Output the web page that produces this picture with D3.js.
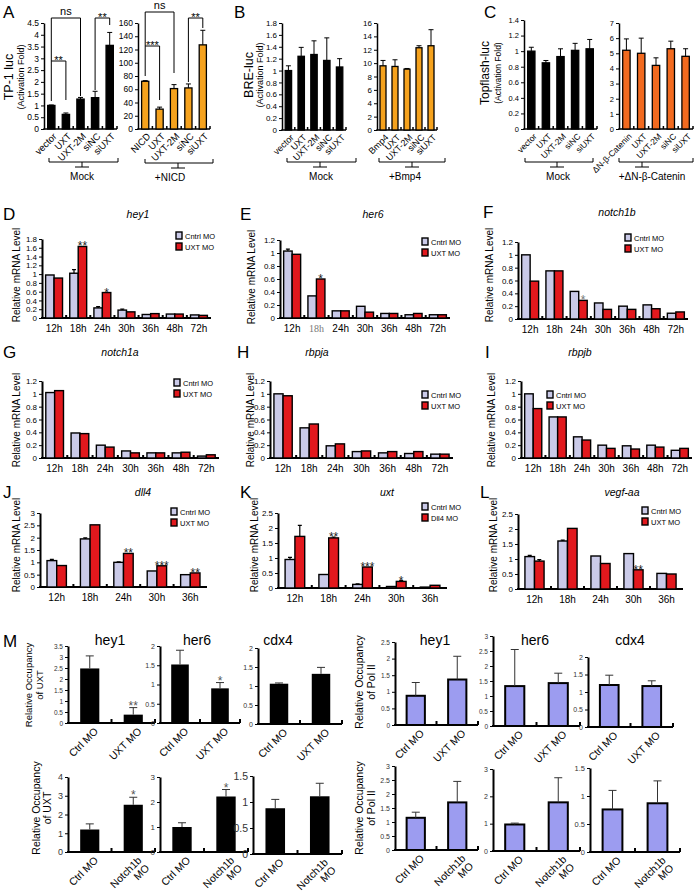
<!DOCTYPE html>
<html><head><meta charset="utf-8">
<script src="https://cdn.jsdelivr.net/npm/d3@7"></script>
<style>body{margin:0;background:#fff}svg{display:block}</style>
</head><body>
<svg id="c" width="699" height="893" font-family="'Liberation Sans', Arial, sans-serif"></svg>
<script>
// ---------------- DATA ----------------
const lucMockCats = ["vector","UXT","UXT-2M","siNC","siUXT"];
const lucNicdCats = ["NICD","UXT","UXT-2M","siNC","siUXT"];
const lucBmpCats  = ["Bmp4","UXT","UXT-2M","siNC","siUXT"];
const lucCatCats  = ["ΔN-β-Catenin","UXT","UXT-2M","siNC","siUXT"];
const tp1Mock    = [1.00, 0.62, 1.27, 1.33, 3.55];
const tp1MockErr = [0.02, 0.06, 0.07, 0.27, 0.55];
const tp1Nicd    = [72, 30, 61, 62, 127];
const tp1NicdErr = [1, 3, 6, 6, 22];
const breMock    = [1.00, 1.24, 1.27, 1.17, 1.06];
const breMockErr = [0.08, 0.15, 0.23, 0.38, 0.14];
const breBmp     = [9.6, 9.5, 9.1, 12.3, 12.6];
const breBmpErr  = [0.8, 1.0, 0.1, 0.3, 2.4];
const topMock    = [1.00, 0.85, 0.93, 1.01, 1.03];
const topMockErr = [0.05, 0.03, 0.10, 0.09, 0.12];
const topCat     = [5.2, 5.0, 4.2, 5.3, 4.8];
const topCatErr  = [0.75, 1.0, 0.5, 0.5, 0.5];

const hours7 = ["12h","18h","24h","30h","36h","48h","72h"];
const hours5 = ["12h","18h","24h","30h","36h"];
const hey1Ctrl = [0.98, 1.02, 0.23, 0.18, 0.08, 0.09, 0.07];
const hey1CtrlErr = [0, 0.08, 0.03, 0.02, 0, 0, 0];
const hey1Uxt = [0.91, 1.63, 0.58, 0.14, 0.10, 0.09, 0.06];
const hey1Stars = ["", "**", "*", "", "", "", ""];
const her6Ctrl = [1.03, 0.34, 0.11, 0.18, 0.07, 0.05, 0.05];
const her6CtrlErr = [0.03, 0, 0, 0, 0, 0, 0];
const her6Uxt = [0.98, 0.60, 0.11, 0.09, 0.07, 0.07, 0.05];
const her6Stars = ["", "*", "", "", "", "", ""];
const n1bCtrl = [1.00, 0.75, 0.43, 0.25, 0.20, 0.22, 0.09];
const n1bUxt = [0.59, 0.75, 0.29, 0.15, 0.15, 0.16, 0.11];
const n1bStars = ["", "", "*", "", "", "", ""];
const n1aCtrl = [1.02, 0.39, 0.20, 0.11, 0.08, 0.08, 0.03];
const n1aUxt = [1.05, 0.38, 0.17, 0.08, 0.08, 0.09, 0.05];
const rbpjaCtrl = [1.00, 0.47, 0.19, 0.10, 0.08, 0.07, 0.06];
const rbpjaUxt = [0.97, 0.53, 0.22, 0.11, 0.10, 0.10, 0.06];
const rbpjbCtrl = [1.00, 0.64, 0.33, 0.20, 0.19, 0.20, 0.12];
const rbpjbUxt = [0.77, 0.64, 0.28, 0.15, 0.14, 0.17, 0.15];
const dll4Ctrl = [1.07, 1.95, 1.00, 0.65, 0.50];
const dll4CtrlErr = [0.05, 0.04, 0.02, 0, 0];
const dll4Uxt = [0.87, 2.52, 1.36, 0.86, 0.57];
const dll4Stars = ["", "", "**", "***", "**"];
const uxtCtrl = [0.95, 0.45, 0.12, 0.05, 0.03];
const uxtCtrlErr = [0.07, 0, 0.02, 0, 0];
const uxtDll4 = [1.72, 1.67, 0.70, 0.22, 0.09];
const uxtDll4Err = [0.37, 0.03, 0, 0.03, 0];
const uxtStars = ["", "**", "***", "*", ""];
const vegfCtrl = [1.08, 1.60, 1.10, 1.18, 0.52];
const vegfCtrlErr = [0.04, 0.03, 0, 0, 0];
const vegfUxt = [0.93, 2.02, 0.85, 0.64, 0.50];
const vegfUxtErr = [0.05, 0, 0, 0, 0];
const vegfStars = ["", "", "", "**", ""];

const moCats = ["Ctrl MO", "UXT MO"];
const notchCats = ["Ctrl MO", "Notch1b MO"];
const uxtOccHey1 = [2.48, 0.38], uxtOccHey1Err = [0.57, 0.32], uxtOccHey1Stars = ["", "**"];
const uxtOccHer6 = [1.52, 0.90], uxtOccHer6Err = [0.37, 0.15], uxtOccHer6Stars = ["", "*"];
const uxtOccCdx4 = [1.06, 1.32], uxtOccCdx4Err = [0.02, 0.17];
const uxtNHey1 = [1.20, 2.52], uxtNHey1Err = [0.30, 0.40], uxtNHey1Stars = ["", "*"];
const uxtNHer6 = [1.00, 2.22], uxtNHer6Err = [0.17, 0.28], uxtNHer6Stars = ["", "*"];
const uxtNCdx4 = [0.88, 1.11], uxtNCdx4Err = [0.17, 0.25];
const polHey1 = [0.88, 1.37], polHey1Err = [0.40, 0.70];
const polHer6 = [1.33, 1.43], polHer6Err = [1.22, 0.33];
const polCdx4 = [1.20, 1.17], polCdx4Err = [0.28, 0.15];
const polNHey1 = [1.15, 1.70], polNHey1Err = [0.20, 0.75];
const polNHer6 = [0.97, 1.78], polNHer6Err = [0.05, 0.90];
const polNCdx4 = [0.76, 0.87], polNCdx4Err = [0.34, 0.40];

// ---------------- DRAWING ----------------
const FONT = "'Liberation Sans', Arial, sans-serif";
const svg = d3.select("#c");
const fmt = v => String(+(+v).toFixed(2));
const ORANGE = "#f5a21d", ORANGE2 = "#f26a1f", RED = "#e2181d", LAV = "#cacae8", POL = "#9c9cf0";

function txt(g, x, y, s, o = {}) {
  const t = g.append("text").attr("x", x).attr("y", y).text(s)
    .attr("font-size", o.fs || 10).attr("text-anchor", o.anchor || "middle")
    .attr("fill", o.fill || "#000").attr("font-family", o.family || FONT);
  if (o.italic) t.attr("font-style", "italic");
  if (o.rot) t.attr("transform", `rotate(${o.rot},${x},${y})`);
  if (o.weight) t.attr("font-weight", o.weight);
  return t;
}
function yAxis(g, y, x0, max, step, fs, col, sw) {
  const ticks = d3.range(0, max + step / 2, step).map(v => +v.toFixed(3));
  const a = g.append("g").attr("transform", `translate(${x0},0)`)
    .call(d3.axisLeft(y).tickValues(ticks).tickSize(3).tickSizeOuter(0).tickPadding(2).tickFormat(fmt));
  a.attr("font-family", FONT);
  a.select(".domain").attr("stroke", "#000").attr("stroke-width", sw);
  a.selectAll(".tick line").attr("stroke", "#000");
  a.selectAll(".tick text").attr("font-size", fs).attr("fill", col);
}
function xLine(g, x0, x1, y, sw) {
  g.append("line").attr("x1", x0 - sw / 2).attr("x2", x1).attr("y1", y).attr("y2", y)
    .attr("stroke", "#000").attr("stroke-width", sw);
}
function errBar(g, cx, yv, ye, cap, col, sw) {
  g.append("path").attr("d", `M${cx},${yv}V${ye}M${cx - cap},${ye}H${cx + cap}`)
    .attr("stroke", col).attr("stroke-width", sw).attr("fill", "none");
}

// --- luciferase panels (A-C)
function luc(c) {
  const g = svg.append("g");
  const x = d3.scaleBand().domain(c.cats).range([c.x0, c.x1]).paddingInner(0.5).paddingOuter(0.25);
  const y = d3.scaleLinear().domain([0, c.max]).range([c.yb, c.yt]);
  yAxis(g, y, c.x0, c.max, c.step, c.fs, "#000", 1.5);
  xLine(g, c.x0, c.x1, c.yb, 1.5);
  for (let i = 1; i <= c.cats.length; i++) {
    const tx = c.x0 + i * x.step();
    g.append("line").attr("x1", tx).attr("x2", tx).attr("y1", c.yb).attr("y2", c.yb - 3).attr("stroke", "#000").attr("stroke-width", 1.5);
  }
  g.selectAll(null).data(c.vals).join("rect")
    .attr("x", (d, i) => x(c.cats[i])).attr("y", d => y(d))
    .attr("width", x.bandwidth()).attr("height", d => c.yb - y(d))
    .attr("fill", c.color).attr("stroke", "#000").attr("stroke-width", 1.3);
  c.vals.forEach((v, i) => {
    if (c.errs[i] > 0) errBar(g, x(c.cats[i]) + x.bandwidth() / 2, y(v), y(v + c.errs[i]), 2.5, "#000", 1);
  });
  c.cats.forEach(t => {
    const cx = x(t) + x.bandwidth() / 2 + 6, cy = c.yb + 8;
    txt(g, cx, cy, t, { fs: c.lfs, anchor: "end", rot: -45 });
  });
  const b = c.br;
  g.append("path").attr("d", `M${b.x1},${b.y - 4}V${b.y}H${b.x2}V${b.y - 4}M${b.stem},${b.y}V${b.y + 5}M${b.stem - 7},${b.y + 5}H${b.stem + 7}`)
    .attr("stroke", "#000").attr("stroke-width", 1).attr("fill", "none");
  txt(g, b.lx, b.y + 18, b.label, { fs: 10 });
  return { g, x, y };
}
function sig(g, xa, xb, yTop, ya, yb, label, fs) {
  g.append("path").attr("d", `M${xa},${ya}V${yTop}H${xb}V${yb}`).attr("stroke", "#000").attr("stroke-width", 1).attr("fill", "none");
  txt(g, (xa + xb) / 2, label === "ns" ? yTop - 3 : yTop + 2.5, label, { fs: fs || 11 });
}

// A
txt(svg, 3, 18, "A", { fs: 17, anchor: "start" });
txt(svg, 13, 77, "TP-1 luc", { fs: 12.5, rot: -90 });
txt(svg, 24, 77, "(Activation Fold)", { fs: 9, rot: -90 });
const A1 = luc({ cats: lucMockCats, vals: tp1Mock, errs: tp1MockErr, x0: 44, x1: 117, yt: 23, yb: 129, max: 4.5, step: 0.5, fs: 8.5, lfs: 9.5, color: "#000",
  br: { x1: 49, x2: 118, y: 162, stem: 82, lx: 82, label: "Mock" } });
const A2 = luc({ cats: lucNicdCats, vals: tp1Nicd, errs: tp1NicdErr, x0: 138, x1: 210, yt: 23, yb: 129, max: 160, step: 20, fs: 8.5, lfs: 9.5, color: ORANGE,
  br: { x1: 145, x2: 213, y: 163, stem: 178, lx: 170, label: "+NICD" } });
{
  const c = i => A1.x(lucMockCats[i]) + A1.x.bandwidth() / 2;
  sig(A1.g, c(0), c(2), 18, 61, 96, "ns");
  sig(A1.g, c(0), c(1), 61, 101, 100, "**");
  sig(A1.g, c(3), c(4), 18, 90, 25, "**");
  const d = i => A2.x(lucNicdCats[i]) + A2.x.bandwidth() / 2;
  sig(A2.g, d(0), d(2), 12, 46, 73, "ns");
  sig(A2.g, d(0), d(1), 46, 76, 100, "***");
  sig(A2.g, d(3), d(4), 18, 82, 28, "**");
}
// B
txt(svg, 234, 18, "B", { fs: 17, anchor: "start" });
txt(svg, 253, 75, "BRE-luc", { fs: 12.5, rot: -90 });
txt(svg, 263, 75, "(Activation Fold)", { fs: 9, rot: -90 });
luc({ cats: lucMockCats, vals: breMock, errs: breMockErr, x0: 282, x1: 346, yt: 23, yb: 130, max: 1.8, step: 0.2, fs: 8, lfs: 9, color: "#000",
  br: { x1: 287, x2: 356, y: 162, stem: 320, lx: 321, label: "Mock" } });
luc({ cats: lucBmpCats, vals: breBmp, errs: breBmpErr, x0: 377, x1: 437, yt: 23, yb: 130, max: 16, step: 2, fs: 8, lfs: 9, color: ORANGE,
  br: { x1: 379, x2: 445, y: 162, stem: 412, lx: 405, label: "+Bmp4" } });
// C
txt(svg, 484, 18, "C", { fs: 17, anchor: "start" });
txt(svg, 489, 73, "Topflash-luc", { fs: 12, rot: -90 });
txt(svg, 501, 73, "(Activation Fold)", { fs: 8.5, rot: -90 });
luc({ cats: lucMockCats, vals: topMock, errs: topMockErr, x0: 524, x1: 597, yt: 20, yb: 129, max: 1.4, step: 0.2, fs: 7.5, lfs: 8.5, color: "#000",
  br: { x1: 525, x2: 593, y: 162, stem: 557, lx: 558, label: "Mock" } });
luc({ cats: lucCatCats, vals: topCat, errs: topCatErr, x0: 619, x1: 693, yt: 23, yb: 129, max: 7, step: 1, fs: 7.5, lfs: 8.5, color: ORANGE2,
  br: { x1: 619, x2: 693, y: 162, stem: 642, lx: 652, label: "+ΔN-β-Catenin" } });

// --- time course panels (D-L)
function tc(c) {
  const g = svg.append("g");
  const x = d3.scaleBand().domain(c.cats).range([c.x0, c.x1]).paddingInner(c.pad).paddingOuter(c.pad / 2);
  const xi = d3.scaleBand().domain([0, 1]).range([0, x.bandwidth()]);
  const y = d3.scaleLinear().domain([0, c.max]).range([c.yb, c.yt]);
  yAxis(g, y, c.x0, c.max, c.step, 8, "#000", 2);
  xLine(g, c.x0, c.x1, c.yb, 2);
  for (let i = 1; i < c.cats.length; i++) {
    const tx = c.x0 + i * x.step();
    g.append("line").attr("x1", tx).attr("x2", tx).attr("y1", c.yb).attr("y2", c.yb - 3).attr("stroke", "#000").attr("stroke-width", 2);
  }
  const series = [{ v: c.a, e: c.ae, col: LAV }, { v: c.b, e: c.be, col: RED }];
  series.forEach((s, k) => {
    g.selectAll(null).data(s.v).join("rect")
      .attr("x", (d, i) => x(c.cats[i]) + xi(k)).attr("y", d => y(d))
      .attr("width", xi.bandwidth()).attr("height", d => c.yb - y(d))
      .attr("fill", s.col).attr("stroke", "#000").attr("stroke-width", 1.4);
    if (s.e) s.v.forEach((v, i) => { if (s.e[i] > 0) errBar(g, x(c.cats[i]) + xi(k) + xi.bandwidth() / 2, y(v), y(v + s.e[i]), 2, "#000", 1.2); });
  });
  if (c.stars) c.stars.forEach((s, i) => {
    if (!s) return;
    const top = c.b[i] + ((c.be && c.be[i]) || 0);
    txt(g, x(c.cats[i]) + xi(1) + xi.bandwidth() / 2, y(top) + 4, s, { fs: 12, fill: c.starCol || "#222" });
  });
  c.cats.forEach((t, i) => {
    const serif = c.serifIdx === i;
    txt(g, x(t) + x.bandwidth() / 2, c.yb + 14, t, { fs: 10, family: serif ? "'Liberation Serif', serif" : FONT, fill: serif ? "#777" : "#000" });
  });
  [[LAV, c.la], [RED, c.lb]].forEach((L, k) => {
    g.append("rect").attr("x", c.lx).attr("y", c.ly + k * 11).attr("width", 6).attr("height", 7)
      .attr("fill", L[0]).attr("stroke", "#000").attr("stroke-width", 1.4);
    txt(g, c.lx + 9, c.ly + k * 11 + 6.5, L[1], { fs: 7.5, anchor: "start" });
  });
  txt(g, c.tx, c.ty, c.title, { fs: 10.5, italic: true });
  txt(g, c.letX, c.ty + 2, c.letter, { fs: 17, anchor: "start" });
  txt(g, c.ylx, c.yly, "Relative mRNA Level", { fs: 10, rot: -90 });
}
const leg = { la: "Cntrl MO", lb: "UXT MO" };
tc({ ...leg, letter: "D", letX: 3, title: "hey1", tx: 138, ty: 218, cats: hours7, a: hey1Ctrl, ae: hey1CtrlErr, b: hey1Uxt, stars: hey1Stars,
  x0: 42, x1: 211, yt: 239, yb: 318, max: 1.8, step: 0.2, pad: 0.3, lx: 176, ly: 232, ylx: 20, yly: 275 });
tc({ ...leg, letter: "E", letX: 240, title: "her6", tx: 373, ty: 218, cats: hours7, a: her6Ctrl, ae: her6CtrlErr, b: her6Uxt, stars: her6Stars, serifIdx: 1,
  x0: 280, x1: 450, yt: 240, yb: 318, max: 1.2, step: 0.2, pad: 0.3, lx: 422, ly: 238, ylx: 255, yly: 277 });
tc({ ...leg, letter: "F", letX: 483, title: "notch1b", tx: 617, ty: 216, cats: hours7, a: n1bCtrl, b: n1bUxt, stars: n1bStars, starCol: "#777",
  x0: 518, x1: 688, yt: 242, yb: 319, max: 1.2, step: 0.2, pad: 0.3, lx: 625, ly: 234, ylx: 493, yly: 275 });
tc({ ...leg, letter: "G", letX: 3, title: "notch1a", tx: 120, ty: 356, cats: hours7, a: n1aCtrl, b: n1aUxt,
  x0: 42, x1: 219, yt: 381, yb: 458, max: 1.2, step: 0.2, pad: 0.3, lx: 174, ly: 379, ylx: 20, yly: 420 });
tc({ ...leg, letter: "H", letX: 237, title: "rbpja", tx: 317, ty: 356, cats: hours7, a: rbpjaCtrl, b: rbpjaUxt,
  x0: 270, x1: 453, yt: 381, yb: 458, max: 1.2, step: 0.2, pad: 0.3, lx: 422, ly: 391, ylx: 254, yly: 420 });
tc({ ...leg, letter: "I", letX: 485, title: "rbpjb", tx: 580, ty: 356, cats: hours7, a: rbpjbCtrl, b: rbpjbUxt,
  x0: 521, x1: 692, yt: 381, yb: 458, max: 1.2, step: 0.2, pad: 0.3, lx: 547, ly: 391, ylx: 495, yly: 420 });
tc({ ...leg, letter: "J", letX: 3, title: "dll4", tx: 143, ty: 496, cats: hours5, a: dll4Ctrl, ae: dll4CtrlErr, b: dll4Uxt, stars: dll4Stars,
  x0: 40, x1: 207, yt: 513, yb: 587, max: 3, step: 0.5, pad: 0.42, lx: 171, ly: 508, ylx: 20, yly: 545 });
tc({ la: "Cntrl MO", lb: "Dll4 MO", letter: "K", letX: 240, title: "uxt", tx: 387, ty: 496, cats: hours5, a: uxtCtrl, ae: uxtCtrlErr, b: uxtDll4, be: uxtDll4Err, stars: uxtStars,
  x0: 278, x1: 447, yt: 513, yb: 588, max: 2.5, step: 0.5, pad: 0.42, lx: 422, ly: 503, ylx: 258, yly: 545 });
tc({ ...leg, letter: "L", letX: 480, title: "vegf-aa", tx: 622, ty: 496, cats: hours5, a: vegfCtrl, ae: vegfCtrlErr, b: vegfUxt, be: vegfUxtErr, stars: vegfStars,
  x0: 518, x1: 683, yt: 514, yb: 589, max: 2.5, step: 0.5, pad: 0.42, lx: 642, ly: 507, ylx: 497, yly: 545 });

// --- ChIP panels (M)
function chip(c) {
  const g = svg.append("g");
  const x = d3.scaleBand().domain(c.cats).range([c.x0, c.x1]).paddingInner(0.56).paddingOuter(0.28);
  const y = d3.scaleLinear().domain([0, c.max]).range([c.yb, c.yt]);
  yAxis(g, y, c.x0, c.max, c.step, c.fs, "#333", 2);
  xLine(g, c.x0, c.x1, c.yb, 2);
  [c.x0 + x.step(), c.x1].forEach(tx => g.append("line").attr("x1", tx).attr("x2", tx).attr("y1", c.yb).attr("y2", c.yb - 4).attr("stroke", "#000").attr("stroke-width", 2));
  g.selectAll(null).data(c.vals).join("rect")
    .attr("x", (d, i) => x(c.cats[i])).attr("y", d => y(d))
    .attr("width", x.bandwidth()).attr("height", d => c.yb - y(d))
    .attr("fill", c.color).attr("stroke", "#000").attr("stroke-width", c.color === "#000" ? 0 : 2);
  c.vals.forEach((v, i) => errBar(g, x(c.cats[i]) + x.bandwidth() / 2, y(v), y(v + c.errs[i]), 4, "#333", 1));
  if (c.stars) c.stars.forEach((s, i) => {
    if (s) txt(g, x(c.cats[i]) + x.bandwidth() / 2, y(c.vals[i] + c.errs[i]) + 2, s, { fs: 12, fill: "#555" });
  });
  c.cats.forEach(t => {
    const ax = x(t) + x.bandwidth() / 2 + 9, ay = c.yb + 9;
    const parts = t === "Notch1b MO" ? ["Notch1b", "MO"] : [t];
    const tt = g.append("text").attr("transform", `translate(${ax},${ay}) rotate(-45)`).attr("text-anchor", "end")
      .attr("font-size", 10.5).attr("font-family", FONT);
    parts.forEach((p, k) => tt.append("tspan").attr("x", 0).attr("dy", k ? "1.05em" : 0).text(p));
  });
  if (c.title) txt(svg, c.title[1], 645, c.title[0], { fs: 14 });
}
txt(svg, 3, 647, "M", { fs: 17, anchor: "start" });
txt(svg, 32, 685, "Relative Occupancy", { fs: 9.5, rot: -90 });
txt(svg, 43, 685, "of UXT", { fs: 9.5, rot: -90 });
txt(svg, 40, 808, "Relative Occupancy", { fs: 10.5, rot: -90 });
txt(svg, 51, 808, "of UXT", { fs: 10.5, rot: -90 });
txt(svg, 363, 682, "Relative Occupancy", { fs: 10.5, rot: -90 });
txt(svg, 375, 682, "of Pol II", { fs: 10.5, rot: -90 });
txt(svg, 363, 808, "Relative Occupancy", { fs: 10.5, rot: -90 });
txt(svg, 375, 808, "of Pol II", { fs: 10.5, rot: -90 });

chip({ title: ["hey1", 110], cats: moCats, vals: uxtOccHey1, errs: uxtOccHey1Err, stars: uxtOccHey1Stars, color: "#000", x0: 68, x1: 155, yt: 646, yb: 723, max: 3.5, step: 0.5, fs: 6.5 });
chip({ title: ["her6", 197], cats: moCats, vals: uxtOccHer6, errs: uxtOccHer6Err, stars: uxtOccHer6Stars, color: "#000", x0: 160, x1: 240, yt: 646, yb: 723, max: 2, step: 0.5, fs: 7 });
chip({ title: ["cdx4", 278], cats: moCats, vals: uxtOccCdx4, errs: uxtOccCdx4Err, color: "#000", x0: 258, x1: 342, yt: 648, yb: 724, max: 2, step: 0.5, fs: 7 });
chip({ cats: notchCats, vals: uxtNHey1, errs: uxtNHey1Err, stars: uxtNHey1Stars, color: "#000", x0: 68, x1: 155, yt: 777, yb: 852, max: 4, step: 1, fs: 9 });
chip({ cats: notchCats, vals: uxtNHer6, errs: uxtNHer6Err, stars: uxtNHer6Stars, color: "#000", x0: 160, x1: 248, yt: 777, yb: 852, max: 3, step: 1, fs: 8 });
chip({ cats: notchCats, vals: uxtNCdx4, errs: uxtNCdx4Err, color: "#000", x0: 253, x1: 342, yt: 776, yb: 854, max: 1.5, step: 0.5, fs: 10.5 });
chip({ title: ["hey1", 435], cats: moCats, vals: polHey1, errs: polHey1Err, color: POL, x0: 395, x1: 478, yt: 642, yb: 725, max: 2.5, step: 0.5, fs: 6.5 });
chip({ title: ["her6", 535], cats: moCats, vals: polHer6, errs: polHer6Err, color: POL, x0: 493, x1: 580, yt: 636, yb: 726, max: 3, step: 0.5, fs: 6.5 });
chip({ title: ["cdx4", 630], cats: moCats, vals: polCdx4, errs: polCdx4Err, color: POL, x0: 588, x1: 673, yt: 657, yb: 727, max: 2, step: 0.5, fs: 7 });
chip({ cats: notchCats, vals: polNHey1, errs: polNHey1Err, color: POL, x0: 395, x1: 478, yt: 766, yb: 850, max: 3, step: 0.5, fs: 7 });
chip({ cats: notchCats, vals: polNHer6, errs: polNHer6Err, color: POL, x0: 493, x1: 580, yt: 769, yb: 851, max: 3, step: 1, fs: 7 });
chip({ cats: notchCats, vals: polNCdx4, errs: polNCdx4Err, color: POL, x0: 590, x1: 680, yt: 768, yb: 852, max: 1.5, step: 0.5, fs: 7.5 });
</script>
</body></html>
